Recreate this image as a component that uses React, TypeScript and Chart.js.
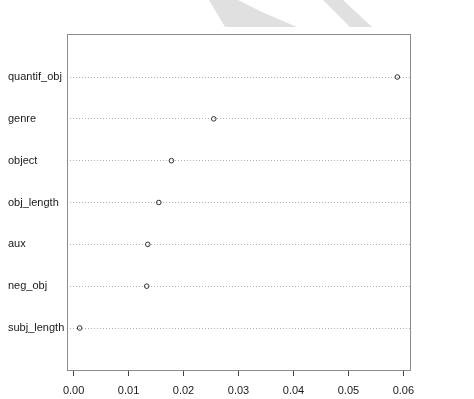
import React, { useEffect, useRef } from "react";
import { Chart, registerables } from "chart.js";

Chart.register(...registerables);

const labels = ["quantif_obj", "genre", "object", "obj_length", "aux", "neg_obj", "subj_length"];
const values = [0.0589, 0.0255, 0.0178, 0.0155, 0.0135, 0.0133, 0.0011];
const xTicks = [0, 0.01, 0.02, 0.03, 0.04, 0.05, 0.06];

const FONT = "'Liberation Sans', Arial, sans-serif";

const boxPlugin = {
  id: "boxPlugin",
  beforeDraw(chart: any) {
    const ctx = chart.ctx;
    ctx.save();
    ctx.fillStyle = "#ffffff";
    ctx.fillRect(0, 0, chart.width, chart.height);
    // faint watermark
    ctx.fillStyle = "#e0e0e0";
    ctx.beginPath();
    ctx.moveTo(209, 0);
    ctx.lineTo(238, 0);
    ctx.lineTo(262, 12);
    ctx.lineTo(297, 27);
    ctx.lineTo(225, 27);
    ctx.closePath();
    ctx.fill();
    ctx.beginPath();
    ctx.moveTo(323, 0);
    ctx.lineTo(343, 0);
    ctx.lineTo(372, 27);
    ctx.lineTo(350, 27);
    ctx.closePath();
    ctx.fill();
    ctx.restore();
  },
  afterDatasetsDraw(chart: any) {
    const { ctx, chartArea } = chart;
    ctx.save();
    ctx.strokeStyle = "#8c8c8c";
    ctx.lineWidth = 1;
    ctx.strokeRect(
      Math.round(chartArea.left) + 0.5,
      Math.round(chartArea.top) + 0.5,
      Math.round(chartArea.right - chartArea.left),
      Math.round(chartArea.bottom - chartArea.top)
    );
    ctx.restore();
  },
};

export default function App() {
  const ref = useRef<HTMLCanvasElement>(null);
  useEffect(() => {
    if (!ref.current) return;
    const data = values.map((v, i) => ({ x: v, y: i + 1 }));
    const chart = new Chart(ref.current, {
      type: "scatter",
      data: {
        datasets: [
          {
            data,
            pointRadius: 2.3,
            pointHoverRadius: 2.3,
            pointBorderWidth: 1,
            pointBorderColor: "#333333",
            pointBackgroundColor: "rgba(255,255,255,0)",
            showLine: false,
          },
        ],
      },
      options: {
        animation: false,
        responsive: false,
        events: [],
        layout: { padding: { left: 8, right: 64, top: 34, bottom: 0 } },
        plugins: { legend: { display: false }, tooltip: { enabled: false } },
        scales: {
          x: {
            type: "linear",
            min: -0.0012,
            max: 0.0612,
            afterBuildTicks: (scale: any) => {
              scale.ticks = xTicks.map((v) => ({ value: v }));
            },
            afterFit: (scale: any) => {
              scale.height = 29;
            },
            border: { display: false },
            grid: {
              drawOnChartArea: false,
              drawTicks: true,
              tickLength: 6,
              color: "#444444",
              lineWidth: 1,
            },
            ticks: {
              color: "#1a1a1a",
              font: { family: FONT, size: 11 },
              padding: 8,
              maxRotation: 0,
              autoSkip: false,
              callback: (v: any) => Number(v).toFixed(2),
            },
          },
          y: {
            type: "linear",
            reverse: true,
            min: -0.028,
            max: 8.004,
            afterBuildTicks: (scale: any) => {
              scale.ticks = labels.map((_, i) => ({ value: i + 1 }));
            },
            afterFit: (scale: any) => {
              scale.width = 59;
            },
            border: { display: false, dash: [1, 2] },
            grid: {
              drawTicks: false,
              color: "#b0b0b0",
              lineWidth: 1,
            },
            ticks: {
              crossAlign: "far",
              color: "#1a1a1a",
              font: { family: FONT, size: 11 },
              padding: 0,
              autoSkip: false,
              callback: (v: any) => labels[Number(v) - 1] ?? "",
            },
          },
        },
      },
      plugins: [boxPlugin],
    } as any);
    return () => chart.destroy();
  }, []);
  return (
    <div style={{ position: "fixed", left: 0, top: 0, width: 474, height: 399 }}>
      <canvas ref={ref} width={474} height={399} style={{ width: 474, height: 399 }} />
    </div>
  );
}
